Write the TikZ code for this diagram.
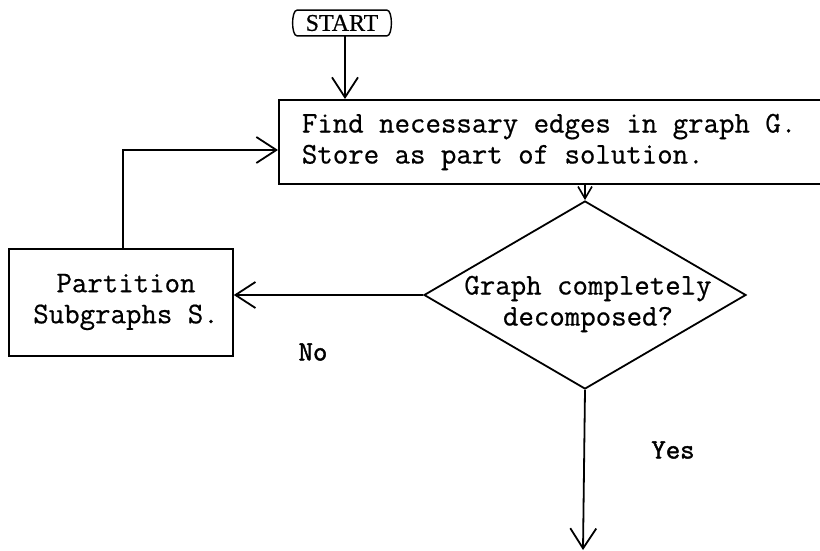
\documentclass[tikz,border=0pt]{standalone}
\usepackage{fontspec}
\setmainfont{Liberation Serif}
\newfontfamily\twfont[FakeBold=0.6]{Latin Modern Mono}
\newfontfamily\lbfont[FakeBold=1.6]{Latin Modern Mono}
\newfontfamily\stfont[FakeBold=0.5]{Liberation Serif}
\usetikzlibrary{arrows.meta,shapes.geometric}
\begin{document}
\begin{tikzpicture}[x=1pt,y=-1pt,
  line width=1.8pt,
  arr/.style={-{Straight Barb[length=20pt,width=26pt,line width=1.8pt]}},
  sarr/.style={-{Straight Barb[length=12pt,width=14pt,line width=1.6pt]}},
  box/.style={draw,inner sep=0pt},
  tw/.style={font=\twfont\fontsize{30}{31}\selectfont,inner sep=0pt},
  lbl/.style={font=\lbfont\fontsize{28}{30}\selectfont,inner sep=0pt}]
\useasboundingbox (0,0) rectangle (820,551);
\clip (0,0) rectangle (820,551);
% START terminal
\node[font=\stfont\fontsize{24}{26}\selectfont,inner sep=0pt,minimum width=88pt,minimum height=24pt] (start) at (342,23) {START};
\draw[line width=1.4pt] (start.north west) -- (start.north east)
  .. controls ([xshift=6pt]start.north east) and ([xshift=6pt]start.south east) .. (start.south east)
  -- (start.south west)
  .. controls ([xshift=-6pt]start.south west) and ([xshift=-6pt]start.north west) .. (start.north west);
% main process box
\node[box,anchor=north west,minimum width=562pt,minimum height=84pt] (main) at (278,99) {};
\node[tw,anchor=west,align=left] (maintext) at (301,142) {Find necessary edges in graph G.\\Store as part of solution.};
% decision
\node[draw,diamond,minimum width=322pt,minimum height=188pt,inner sep=0pt] (dec) at (585,295) {};
\node[tw,align=center] (dectext) at (588,304) {Graph completely\\decomposed?};
% partition box
\node[box,anchor=north west,minimum width=224pt,minimum height=107pt] (part) at (8,248) {};
\node[tw,align=center] (parttext) at (126,302) {Partition\\Subgraphs S.};
% labels
\node[lbl] (no) at (313,352) {No};
\node[lbl] (yes) at (673,450) {Yes};
% connectors
\coordinate (fb) at (123,150);
\coordinate (endpt) at (583,550);
\draw[arr] (start.south -| 345,0) -- (345,99);
\draw[sarr] (dec.north |- main.south) -- (dec.north);
\draw[arr] (dec.west) -- (dec.west -| part.east);
\draw[arr] (part.north -| fb) |- (main.west |- fb);
\draw[arr] (dec.south) -- (endpt);
\end{tikzpicture}
\end{document}
